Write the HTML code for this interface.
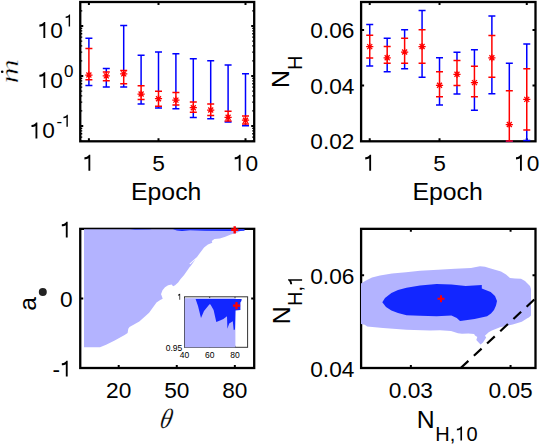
<!DOCTYPE html>
<html><head><meta charset="utf-8"><style>
html,body{margin:0;padding:0;background:#fff;}
svg{display:block;}
text{font-family:"Liberation Sans", sans-serif;fill:#000;}
</style></head><body>
<svg width="550" height="448" viewBox="0 0 550 448">
<defs>
<clipPath id="cTL"><rect x="80.25" y="2" width="173.95" height="140.10000000000002"/></clipPath>
<clipPath id="cTR"><rect x="361.1" y="2" width="174.39999999999998" height="140.10000000000002"/></clipPath>
</defs>
<rect x="80.25" y="2" width="173.95" height="139.30" fill="none" stroke="#000" stroke-width="2.3"/>
<path d="M88.90 141.3v-3M88.90 2v3M158.50 141.3v-3M158.50 2v3M245.50 141.3v-3M245.50 2v3" stroke="#000" stroke-width="2" fill="none"/>
<path d="M80.25 26.00h3M254.2 26.00h-3M80.25 76.00h3M254.2 76.00h-3M80.25 126.00h3M254.2 126.00h-3" stroke="#000" stroke-width="2" fill="none"/>
<path d="M80.25 141.05h2M254.2 141.05h-2M80.25 137.09h2M254.2 137.09h-2M80.25 133.75h2M254.2 133.75h-2M80.25 130.85h2M254.2 130.85h-2M80.25 128.29h2M254.2 128.29h-2M80.25 110.95h2M254.2 110.95h-2M80.25 102.14h2M254.2 102.14h-2M80.25 95.90h2M254.2 95.90h-2M80.25 91.05h2M254.2 91.05h-2M80.25 87.09h2M254.2 87.09h-2M80.25 83.75h2M254.2 83.75h-2M80.25 80.85h2M254.2 80.85h-2M80.25 78.29h2M254.2 78.29h-2M80.25 60.95h2M254.2 60.95h-2M80.25 52.14h2M254.2 52.14h-2M80.25 45.90h2M254.2 45.90h-2M80.25 41.05h2M254.2 41.05h-2M80.25 37.09h2M254.2 37.09h-2M80.25 33.75h2M254.2 33.75h-2M80.25 30.85h2M254.2 30.85h-2M80.25 28.29h2M254.2 28.29h-2M80.25 10.95h2M254.2 10.95h-2M80.25 2.14h2M254.2 2.14h-2" stroke="#000" stroke-width="1.3" fill="none"/>
<g clip-path="url(#cTL)">
<path d="M88.90 38.3V48.4M88.90 79.8V85.4M85.40 38.3H92.40M85.40 85.4H92.40" stroke="#0000ff" stroke-width="1.5" fill="none"/>
<path d="M106.30 68.5V71.9M106.30 80.8V86.9M102.80 68.5H109.80M102.80 86.9H109.80" stroke="#0000ff" stroke-width="1.5" fill="none"/>
<path d="M123.70 25.5V70.6M123.70 83.7V87.0M120.20 25.5H127.20M120.20 87.0H127.20" stroke="#0000ff" stroke-width="1.5" fill="none"/>
<path d="M141.10 55.2V85.8M141.10 99.4V103.9M137.60 55.2H144.60M137.60 103.9H144.60" stroke="#0000ff" stroke-width="1.5" fill="none"/>
<path d="M158.50 52.1V91.2M158.50 106.2V107.9M155.00 52.1H162.00M155.00 107.9H162.00" stroke="#0000ff" stroke-width="1.5" fill="none"/>
<path d="M175.90 53.7V92.5M175.90 105.1V108.7M172.40 53.7H179.40M172.40 108.7H179.40" stroke="#0000ff" stroke-width="1.5" fill="none"/>
<path d="M193.30 58.7V102.0M193.30 112.2V117.5M189.80 58.7H196.80M189.80 117.5H196.80" stroke="#0000ff" stroke-width="1.5" fill="none"/>
<path d="M210.70 60.7V103.9M210.70 115.6V118.8M207.20 60.7H214.20M207.20 118.8H214.20" stroke="#0000ff" stroke-width="1.5" fill="none"/>
<path d="M228.10 65.1V111.2M228.10 121.1V122.1M224.60 65.1H231.60M224.60 122.1H231.60" stroke="#0000ff" stroke-width="1.5" fill="none"/>
<path d="M245.50 73.7V116.0M245.50 124.0V125.8M242.00 73.7H249.00M242.00 125.8H249.00" stroke="#0000ff" stroke-width="1.5" fill="none"/>
<path d="M88.90 48.4V79.8M85.40 48.4H92.40M85.40 79.8H92.40" stroke="#ff0000" stroke-width="1.5" fill="none"/>
<path d="M85.30 75.05H92.50M88.90 71.45V78.64999999999999M86.40 72.55L91.40 77.55M86.40 77.55L91.40 72.55" stroke="#ff0000" stroke-width="1.25" fill="none"/>
<path d="M106.30 71.9V80.8M102.80 71.9H109.80M102.80 80.8H109.80" stroke="#ff0000" stroke-width="1.5" fill="none"/>
<path d="M102.70 75.9H109.90M106.30 72.30000000000001V79.5M103.80 73.4L108.80 78.4M103.80 78.4L108.80 73.4" stroke="#ff0000" stroke-width="1.25" fill="none"/>
<path d="M123.70 70.6V83.7M120.20 70.6H127.20M120.20 83.7H127.20" stroke="#ff0000" stroke-width="1.5" fill="none"/>
<path d="M120.10 73.9H127.30M123.70 70.30000000000001V77.5M121.20 71.4L126.20 76.4M121.20 76.4L126.20 71.4" stroke="#ff0000" stroke-width="1.25" fill="none"/>
<path d="M141.10 85.8V99.4M137.60 85.8H144.60M137.60 99.4H144.60" stroke="#ff0000" stroke-width="1.5" fill="none"/>
<path d="M137.50 94.0H144.70M141.10 90.4V97.6M138.60 91.5L143.60 96.5M138.60 96.5L143.60 91.5" stroke="#ff0000" stroke-width="1.25" fill="none"/>
<path d="M158.50 91.2V106.2M155.00 91.2H162.00M155.00 106.2H162.00" stroke="#ff0000" stroke-width="1.5" fill="none"/>
<path d="M154.90 98.7H162.10M158.50 95.10000000000001V102.3M156.00 96.2L161.00 101.2M156.00 101.2L161.00 96.2" stroke="#ff0000" stroke-width="1.25" fill="none"/>
<path d="M175.90 92.5V105.1M172.40 92.5H179.40M172.40 105.1H179.40" stroke="#ff0000" stroke-width="1.5" fill="none"/>
<path d="M172.30 100.1H179.50M175.90 96.5V103.69999999999999M173.40 97.6L178.40 102.6M173.40 102.6L178.40 97.6" stroke="#ff0000" stroke-width="1.25" fill="none"/>
<path d="M193.30 102.0V112.2M189.80 102.0H196.80M189.80 112.2H196.80" stroke="#ff0000" stroke-width="1.5" fill="none"/>
<path d="M189.70 107.7H196.90M193.30 104.10000000000001V111.3M190.80 105.2L195.80 110.2M190.80 110.2L195.80 105.2" stroke="#ff0000" stroke-width="1.25" fill="none"/>
<path d="M210.70 103.9V115.6M207.20 103.9H214.20M207.20 115.6H214.20" stroke="#ff0000" stroke-width="1.5" fill="none"/>
<path d="M207.10 110.0H214.30M210.70 106.4V113.6M208.20 107.5L213.20 112.5M208.20 112.5L213.20 107.5" stroke="#ff0000" stroke-width="1.25" fill="none"/>
<path d="M228.10 111.2V121.1M224.60 111.2H231.60M224.60 121.1H231.60" stroke="#ff0000" stroke-width="1.5" fill="none"/>
<path d="M224.50 117.3H231.70M228.10 113.7V120.89999999999999M225.60 114.8L230.60 119.8M225.60 119.8L230.60 114.8" stroke="#ff0000" stroke-width="1.25" fill="none"/>
<path d="M245.50 116.0V124.0M242.00 116.0H249.00M242.00 124.0H249.00" stroke="#ff0000" stroke-width="1.5" fill="none"/>
<path d="M241.90 120.2H249.10M245.50 116.60000000000001V123.8M243.00 117.7L248.00 122.7M243.00 122.7L248.00 117.7" stroke="#ff0000" stroke-width="1.25" fill="none"/>
</g>
<rect x="361.1" y="2" width="174.40" height="139.30" fill="none" stroke="#000" stroke-width="2.3"/>
<path d="M369.73 141.3v-3M369.73 2v3M439.52 141.3v-3M439.52 2v3M526.77 141.3v-3M526.77 2v3" stroke="#000" stroke-width="2" fill="none"/>
<path d="M361.1 30.00h3M535.5 30.00h-3M361.1 85.40h3M535.5 85.40h-3" stroke="#000" stroke-width="2" fill="none"/>
<g clip-path="url(#cTR)">
<path d="M369.73 24.5V35.3M369.73 58.0V66.0M366.23 24.5H373.23M366.23 66.0H373.23" stroke="#0000ff" stroke-width="1.5" fill="none"/>
<path d="M387.18 38.2V46.6M387.18 63.2V71.8M383.68 38.2H390.68M383.68 71.8H390.68" stroke="#0000ff" stroke-width="1.5" fill="none"/>
<path d="M404.62 29.7V38.2M404.62 63.2V68.7M401.12 29.7H408.12M401.12 68.7H408.12" stroke="#0000ff" stroke-width="1.5" fill="none"/>
<path d="M422.07 10.4V29.7M422.07 63.3V77.3M418.57 10.4H425.57M418.57 77.3H425.57" stroke="#0000ff" stroke-width="1.5" fill="none"/>
<path d="M439.52 57.8V71.8M439.52 96.7V104.9M436.02 57.8H443.02M436.02 104.9H443.02" stroke="#0000ff" stroke-width="1.5" fill="none"/>
<path d="M456.98 52.3V60.6M456.98 85.5V93.9M453.48 52.3H460.48M453.48 93.9H460.48" stroke="#0000ff" stroke-width="1.5" fill="none"/>
<path d="M474.43 49.7V66.2M474.43 96.7V110.3M470.93 49.7H477.93M470.93 110.3H477.93" stroke="#0000ff" stroke-width="1.5" fill="none"/>
<path d="M491.88 15.9V35.5M491.88 77.3V93.8M488.38 15.9H495.38M488.38 93.8H495.38" stroke="#0000ff" stroke-width="1.5" fill="none"/>
<path d="M509.32 63.2V90.7M509.32 140.9V141.3M505.82 63.2H512.83M505.82 141.3H512.83" stroke="#0000ff" stroke-width="1.5" fill="none"/>
<path d="M526.77 44.0V68.7M526.77 129.9V140.6M523.27 44.0H530.27M523.27 140.6H530.27" stroke="#0000ff" stroke-width="1.5" fill="none"/>
<path d="M369.73 35.3V58.0M366.23 35.3H373.23M366.23 58.0H373.23" stroke="#ff0000" stroke-width="1.5" fill="none"/>
<path d="M366.12 46.6H373.33M369.73 43.0V50.2M367.23 44.1L372.23 49.1M367.23 49.1L372.23 44.1" stroke="#ff0000" stroke-width="1.25" fill="none"/>
<path d="M387.18 46.6V63.2M383.68 46.6H390.68M383.68 63.2H390.68" stroke="#ff0000" stroke-width="1.5" fill="none"/>
<path d="M383.57 57.8H390.78M387.18 54.199999999999996V61.4M384.68 55.3L389.68 60.3M384.68 60.3L389.68 55.3" stroke="#ff0000" stroke-width="1.25" fill="none"/>
<path d="M404.62 38.2V63.2M401.12 38.2H408.12M401.12 63.2H408.12" stroke="#ff0000" stroke-width="1.5" fill="none"/>
<path d="M401.02 52.0H408.23M404.62 48.4V55.6M402.12 49.5L407.12 54.5M402.12 54.5L407.12 49.5" stroke="#ff0000" stroke-width="1.25" fill="none"/>
<path d="M422.07 29.7V63.3M418.57 29.7H425.57M418.57 63.3H425.57" stroke="#ff0000" stroke-width="1.5" fill="none"/>
<path d="M418.47 46.5H425.68M422.07 42.9V50.1M419.57 44.0L424.57 49.0M419.57 49.0L424.57 44.0" stroke="#ff0000" stroke-width="1.25" fill="none"/>
<path d="M439.52 71.8V96.7M436.02 71.8H443.02M436.02 96.7H443.02" stroke="#ff0000" stroke-width="1.5" fill="none"/>
<path d="M435.92 85.3H443.12M439.52 81.7V88.89999999999999M437.02 82.8L442.02 87.8M437.02 87.8L442.02 82.8" stroke="#ff0000" stroke-width="1.25" fill="none"/>
<path d="M456.98 60.6V85.5M453.48 60.6H460.48M453.48 85.5H460.48" stroke="#ff0000" stroke-width="1.5" fill="none"/>
<path d="M453.38 74.3H460.58M456.98 70.7V77.89999999999999M454.48 71.8L459.48 76.8M454.48 76.8L459.48 71.8" stroke="#ff0000" stroke-width="1.25" fill="none"/>
<path d="M474.43 66.2V96.7M470.93 66.2H477.93M470.93 96.7H477.93" stroke="#ff0000" stroke-width="1.5" fill="none"/>
<path d="M470.82 82.6H478.03M474.43 79.0V86.19999999999999M471.93 80.1L476.93 85.1M471.93 85.1L476.93 80.1" stroke="#ff0000" stroke-width="1.25" fill="none"/>
<path d="M491.88 35.5V77.3M488.38 35.5H495.38M488.38 77.3H495.38" stroke="#ff0000" stroke-width="1.5" fill="none"/>
<path d="M488.27 57.8H495.48M491.88 54.199999999999996V61.4M489.38 55.3L494.38 60.3M489.38 60.3L494.38 55.3" stroke="#ff0000" stroke-width="1.25" fill="none"/>
<path d="M509.32 90.7V140.9M505.82 90.7H512.83M505.82 140.9H512.83" stroke="#ff0000" stroke-width="1.5" fill="none"/>
<path d="M505.72 124.5H512.92M509.32 120.9V128.1M506.82 122.0L511.82 127.0M506.82 127.0L511.82 122.0" stroke="#ff0000" stroke-width="1.25" fill="none"/>
<path d="M526.77 68.7V129.9M523.27 68.7H530.27M523.27 129.9H530.27" stroke="#ff0000" stroke-width="1.5" fill="none"/>
<path d="M523.17 99.4H530.38M526.77 95.80000000000001V103.0M524.27 96.9L529.27 101.9M524.27 101.9L529.27 96.9" stroke="#ff0000" stroke-width="1.25" fill="none"/>
</g>
<rect x="80.25" y="228.85" width="173.95" height="139.15" fill="none" stroke="#000" stroke-width="2.3"/>
<path d="M118.71 368v-3M118.71 228.85v3M176.78 368v-3M176.78 228.85v3M234.85 368v-3M234.85 228.85v3" stroke="#000" stroke-width="2" fill="none"/>
<path d="M80.25 298.40h3M254.2 298.40h-3" stroke="#000" stroke-width="2" fill="none"/>
<polygon points="84.0,229.2 244.5,229.2 244.4,229.6 240.0,231.3 236.3,232.9 230.8,234.5 225.3,236.7 219.9,238.4 214.4,238.9 211.7,241.1 212.3,242.7 207.9,244.4 204.1,247.6 200.3,252.5 197.0,256.9 189.4,263.7 190.2,264.3 195.4,259.6 190.5,266.2 189.7,267.0 184.1,275.1 180.6,279.1 178.1,282.6 175.1,285.2 173.1,286.2 171.6,284.6 168.1,285.2 165.0,287.2 162.5,290.2 161.0,294.2 161.4,295.0 162.7,298.7 160.2,299.9 156.5,302.4 149.1,312.8 145.5,315.9 139.3,321.4 129.5,326.9 128.3,328.8 127.6,333.1 124.6,334.9 114.7,340.5 106.1,344.8 100.0,347.2 84.0,347.2" fill="#b3b3ff"/>
<polygon points="130.0,229.2 151.6,229.2 150.0,229.6 135.0,229.7 130.0,229.3" fill="#1226ff"/>
<polygon points="173.4,229.2 244.5,229.2 244.5,230.7 236.0,230.9 205.0,230.7 190.0,230.3 182.0,231.0 177.0,230.6 173.4,229.6" fill="#1226ff"/>
<path d="M231.10 229.8H238.30M234.7 226.20V233.40" stroke="#ff0000" stroke-width="2.4" fill="none"/>
<rect x="184.5" y="296.8" width="63.1" height="50.5" fill="#fff" stroke="#333" stroke-width="1"/>
<path d="M209.7 347.3v-1.5M209.7 296.8v1.5M235 347.3v-1.5M235 296.8v1.5" stroke="#333" stroke-width="1" fill="none"/>
<rect x="184.7" y="298.2" width="50.7" height="49.1" fill="#b3b3ff"/>
<polygon points="195.6,298.9 241.7,298.9 241.4,301.0 240.4,302.5 240.4,310.0 235.5,310.5 235.0,329.5 233.7,330.0 232.8,321.2 229.2,323.4 227.4,328.7 227.0,316.3 223.4,319.0 220.0,320.5 216.3,322.0 213.6,310.0 210.5,304.5 209.5,304.3 204.0,311.0 201.0,318.0 198.0,306.0" fill="#1226ff"/>
<path d="M232.90 305.6H240.10M236.5 302.00V309.20" stroke="#ff0000" stroke-width="2.2" fill="none"/>
<rect x="361.1" y="228.85" width="174.40" height="139.15" fill="none" stroke="#000" stroke-width="2.3"/>
<polygon points="361.0,283.5 366.0,280.5 372.0,277.5 380.0,275.5 392.0,273.5 406.0,272.2 420.0,270.8 438.0,269.8 455.0,268.8 471.0,268.0 476.0,267.0 480.0,266.3 485.0,266.8 489.0,268.0 495.0,269.8 501.0,271.6 506.0,274.5 510.0,278.0 515.0,278.5 521.0,278.8 525.0,281.0 527.5,283.4 530.0,286.0 531.0,289.0 531.0,315.5 528.9,317.6 527.3,318.2 521.8,321.8 512.7,324.5 500.0,327.3 491.9,330.6 488.7,332.2 484.9,335.7 486.2,337.6 483.0,342.4 480.5,344.6 476.3,340.1 477.3,337.0 475.0,335.4 474.1,334.1 468.4,333.5 462.0,333.8 458.0,333.3 451.0,331.0 440.0,330.3 430.0,330.5 406.5,329.7 383.0,328.0 367.2,326.4 364.7,324.7 361.0,324.0" fill="#b3b3ff"/>
<polygon points="382.3,302.2 385.0,298.0 391.4,292.9 398.0,290.0 406.5,287.8 420.0,285.5 436.6,284.1 451.4,284.6 465.7,285.9 481.8,285.0 481.8,288.6 490.7,292.1 495.0,296.0 497.0,301.0 496.0,305.5 494.0,310.0 491.0,313.5 487.1,316.2 474.6,318.9 462.1,320.7 460.0,320.9 456.8,318.0 451.4,315.5 436.6,316.2 420.0,315.8 406.5,315.2 398.0,313.0 391.4,310.5 386.0,307.0" fill="#1226ff"/>
<path d="M437.50 298.8H444.50M441.0 295.30V302.30" stroke="#ff0000" stroke-width="2.0" fill="none"/>
<line x1="460.71" y1="368.00" x2="535.50" y2="298.43" stroke="#000" stroke-width="2.2" stroke-dasharray="10.5 7.5"/>
<path d="M410.86 368v-3M410.86 228.85v3M510.57 368v-3M510.57 228.85v3" stroke="#000" stroke-width="2" fill="none"/>
<path d="M361.1 275.24h3M535.5 275.24h-3" stroke="#000" stroke-width="2" fill="none"/>
<path transform="translate(37.56,38.00) scale(0.02270,-0.02270)" d="M339,0V703H282C262,652 204,603 81,592V497C160,502 220,522 257,547V0Z" fill="#000"/>
<text x="50.19" y="38.00" font-size="22.7">0</text>
<path transform="translate(64.31,26.50) scale(0.01700,-0.01700)" d="M339,0V703H282C262,652 204,603 81,592V497C160,502 220,522 257,547V0Z" fill="#000"/>
<path transform="translate(37.56,88.10) scale(0.02270,-0.02270)" d="M339,0V703H282C262,652 204,603 81,592V497C160,502 220,522 257,547V0Z" fill="#000"/>
<text x="50.19" y="88.10" font-size="22.7">0</text>
<text x="64.11" y="76.90" font-size="17">0</text>
<path transform="translate(29.66,138.40) scale(0.02270,-0.02270)" d="M339,0V703H282C262,652 204,603 81,592V497C160,502 220,522 257,547V0Z" fill="#000"/>
<text x="42.29" y="138.40" font-size="22.7">0</text>
<text x="56.41" y="126.80" font-size="17">-</text>
<path transform="translate(62.07,126.80) scale(0.01700,-0.01700)" d="M339,0V703H282C262,652 204,603 81,592V497C160,502 220,522 257,547V0Z" fill="#000"/>
<path transform="translate(82.59,170.70) scale(0.02270,-0.02270)" d="M339,0V703H282C262,652 204,603 81,592V497C160,502 220,522 257,547V0Z" fill="#000"/>
<path transform="translate(363.41,170.70) scale(0.02270,-0.02270)" d="M339,0V703H282C262,652 204,603 81,592V497C160,502 220,522 257,547V0Z" fill="#000"/>
<text x="152.19" y="170.70" font-size="22.7">5</text>
<text x="433.21" y="170.70" font-size="22.7">5</text>
<path transform="translate(232.88,170.70) scale(0.02270,-0.02270)" d="M339,0V703H282C262,652 204,603 81,592V497C160,502 220,522 257,547V0Z" fill="#000"/>
<text x="245.50" y="170.70" font-size="22.7">0</text>
<path transform="translate(514.15,170.70) scale(0.02270,-0.02270)" d="M339,0V703H282C262,652 204,603 81,592V497C160,502 220,522 257,547V0Z" fill="#000"/>
<text x="526.77" y="170.70" font-size="22.7">0</text>
<text x="131.04" y="200.20" font-size="24.8">Epoch</text>
<text x="412.44" y="200.20" font-size="24.8">Epoch</text>
<text x="310.32" y="38.30" font-size="22.7">0.06</text>
<text x="310.32" y="93.70" font-size="22.7">0.04</text>
<text x="310.32" y="149.10" font-size="22.7">0.02</text>
<path transform="translate(59.98,237.60) scale(0.02270,-0.02270)" d="M339,0V703H282C262,652 204,603 81,592V497C160,502 220,522 257,547V0Z" fill="#000"/>
<text x="59.98" y="307.00" font-size="22.7">0</text>
<text x="52.42" y="376.60" font-size="22.7">-</text>
<path transform="translate(59.98,376.60) scale(0.02270,-0.02270)" d="M339,0V703H282C262,652 204,603 81,592V497C160,502 220,522 257,547V0Z" fill="#000"/>
<text x="106.09" y="398.00" font-size="22.7">20</text>
<text x="164.16" y="398.00" font-size="22.7">50</text>
<text x="222.22" y="398.00" font-size="22.7">80</text>
<path transform="translate(177.27,299.80) scale(0.00850,-0.00850)" d="M339,0V703H282C262,652 204,603 81,592V497C160,502 220,522 257,547V0Z" fill="#000"/>
<text x="165.66" y="350.70" font-size="8.5">0.95</text>
<text x="179.87" y="358.10" font-size="8.5">40</text>
<text x="204.97" y="358.10" font-size="8.5">60</text>
<text x="230.27" y="358.10" font-size="8.5">80</text>
<text x="310.22" y="283.74" font-size="22.7">0.06</text>
<text x="310.22" y="376.70" font-size="22.7">0.04</text>
<text x="388.77" y="398.00" font-size="22.7">0.03</text>
<text x="488.48" y="398.00" font-size="22.7">0.05</text>
<text transform="translate(18.1,71.4) rotate(-90) scale(1.3,1)" font-size="26" font-style="italic" text-anchor="middle" stroke="#fff" stroke-width="0.45" style="font-family:'Liberation Serif', serif">m</text>
<circle cx="2.2" cy="71.75" r="1.3" fill="#000"/>
<text transform="translate(289.4,79) rotate(-90)" font-size="24.8" text-anchor="middle">N</text>
<text transform="translate(302,62.7) rotate(-90)" font-size="20" text-anchor="middle">H</text>
<text transform="translate(36.1,303.75) rotate(-90)" font-size="24.8" text-anchor="middle">a</text>
<circle cx="42.8" cy="292" r="4" fill="#222"/>
<text x="164.7" y="428.5" font-size="28" font-style="italic" text-anchor="middle" stroke="#fff" stroke-width="0.2" style="font-family:'Liberation Serif', serif" transform="translate(164.7,428.5) skewX(-12) scale(0.86,1) translate(-164.7,-428.5)">θ</text>
<text x="416.8" y="427.7" font-size="24.8">N</text>
<text x="435.26" y="440.50" font-size="20">H,</text>
<path transform="translate(455.26,440.50) scale(0.02000,-0.02000)" d="M339,0V703H282C262,652 204,603 81,592V497C160,502 220,522 257,547V0Z" fill="#000"/>
<text x="466.38" y="440.50" font-size="20">0</text>
<text transform="translate(289.6,315.4) rotate(-90)" font-size="24.8" text-anchor="middle">N</text>
<g transform="translate(302.1,290.35) rotate(-90)"><text x="-15.56" y="0.00" font-size="20">H,</text>
<path transform="translate(4.44,0.00) scale(0.02000,-0.02000)" d="M339,0V703H282C262,652 204,603 81,592V497C160,502 220,522 257,547V0Z" fill="#000"/></g>
</svg>
</body></html>
